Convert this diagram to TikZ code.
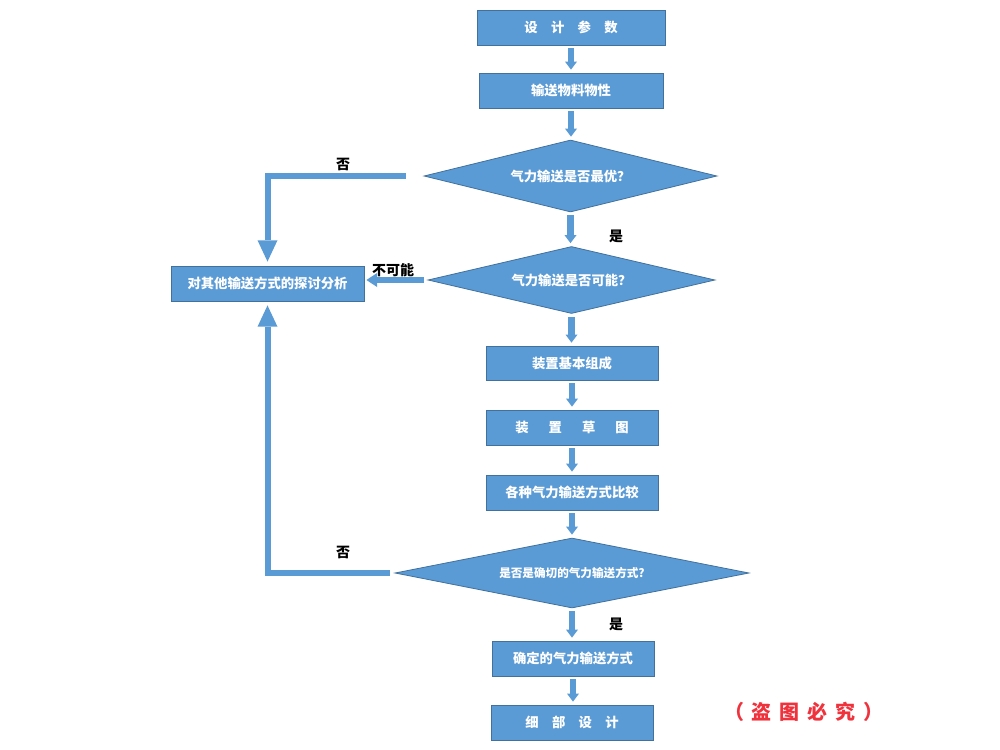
\documentclass[tikz,border=0pt]{standalone}
\usepackage{fontspec}
\setmainfont{Noto Sans CJK SC}
\usepackage{tikz}
\usetikzlibrary{shapes.geometric,arrows.meta}
\definecolor{fillblue}{HTML}{5B9BD5}
\definecolor{edgeblue}{HTML}{41719C}
\definecolor{stampred}{HTML}{F0323C}
\tikzset{
  box/.style={draw=edgeblue, fill=fillblue, line width=0.6pt, text=white, inner sep=0pt,
    font=\bfseries\fontsize{10}{12}\selectfont},
  ask/.style={diamond, aspect=4, draw=edgeblue, fill=fillblue, line width=0.6pt, text=white, inner sep=0pt,
    font=\bfseries\fontsize{10}{12}\selectfont},
  flow/.style={draw=fillblue, line width=5pt, shorten <=2.25pt, shorten >=2.25pt,
    -{Triangle[width=9pt,length=6pt,line width=0pt]}},
  back/.style={draw=fillblue, line width=4.5pt,
    -{Triangle[width=15pt,length=16pt,line width=0pt]}},
  side/.style={draw=fillblue, line width=4.5pt,
    -{Triangle[width=10.5pt,length=8pt,line width=0pt]}},
  lab/.style={text=black, font=\bfseries\fontsize{10.5}{12}\selectfont},
}

\begin{document}
\begin{tikzpicture}[x=0.75pt,y=-0.75pt]
  \useasboundingbox (0,0) rectangle (1000,750);
  \node[box,minimum width=141pt,minimum height=26.25pt] (param) at (571,27.5) {设\quad 计\quad 参\quad 数};
  \node[box,minimum width=138pt,minimum height=26.25pt] (prop) at (571,90.5) {输送物料物性};
  \node[ask,minimum width=219.75pt,minimum height=54pt] (d1) at (570.5,176) {气力输送是否最优？};
  \node[ask,minimum width=215.25pt,minimum height=50.25pt] (d2) at (571.5,280) {气力输送是否可能？};
  \node[box,minimum width=144.75pt,minimum height=26.25pt] (other) at (267.5,283.5) {对其他输送方式的探讨分析};
  \node[box,minimum width=129pt,minimum height=25.5pt] (build) at (572,363) {装置基本组成};
  \node[box,minimum width=129pt,minimum height=26.25pt] (sketch) at (572,427.5) {装\hspace{1.5em}置\hspace{1.5em}草\hspace{1.5em}图};
  \node[box,minimum width=129pt,minimum height=26.25pt] (compare) at (572,492.5) {各种气力输送方式比较};
  \node[ask,minimum width=265.5pt,minimum height=52.5pt,font=\bfseries\fontsize{8.7}{10}\selectfont] (d3) at (572,573) {是否是确切的气力输送方式?};
  \node[box,minimum width=121.5pt,minimum height=26.25pt] (final) at (573,658.5) {确定的气力输送方式};
  \node[box,minimum width=121.5pt,minimum height=26.25pt] (detail) at (572,722.5) {细\quad 部\quad 设\quad 计};

  \foreach \a/\b in {param/prop,prop/d1,d1/d2,d2/build,build/sketch,sketch/compare,compare/d3,d3/final,final/detail}
    \draw[flow] (\a.south) -- (\a.south |- \b.north);

  \draw[back,shorten <=13.5pt,shorten >=3pt] (d1.west) -| (other.north);
  \draw[side,shorten <=3pt,shorten >=1.5pt] (d2.west) -- (d2.west -| other.east);
  \draw[back,shorten <=3.75pt,shorten >=3pt] (d3.west) -| (other.south);

  \node[lab] (no1) at (343,164) {否};
  \node[lab] (yes1) at (616,236) {是};
  \node[lab] (nope) at (393,270) {不可能};
  \node[lab] (no2) at (343,552) {否};
  \node[lab] (yes2) at (616,624) {是};
  \node[text=stampred,font=\bfseries\fontsize{15}{18}\selectfont] (stamp) at (804,712)
    {（\hspace{0.4em}盗\hspace{0.4em}图\hspace{0.4em}必\hspace{0.4em}究\hspace{0.4em}）};
\end{tikzpicture}
\end{document}
